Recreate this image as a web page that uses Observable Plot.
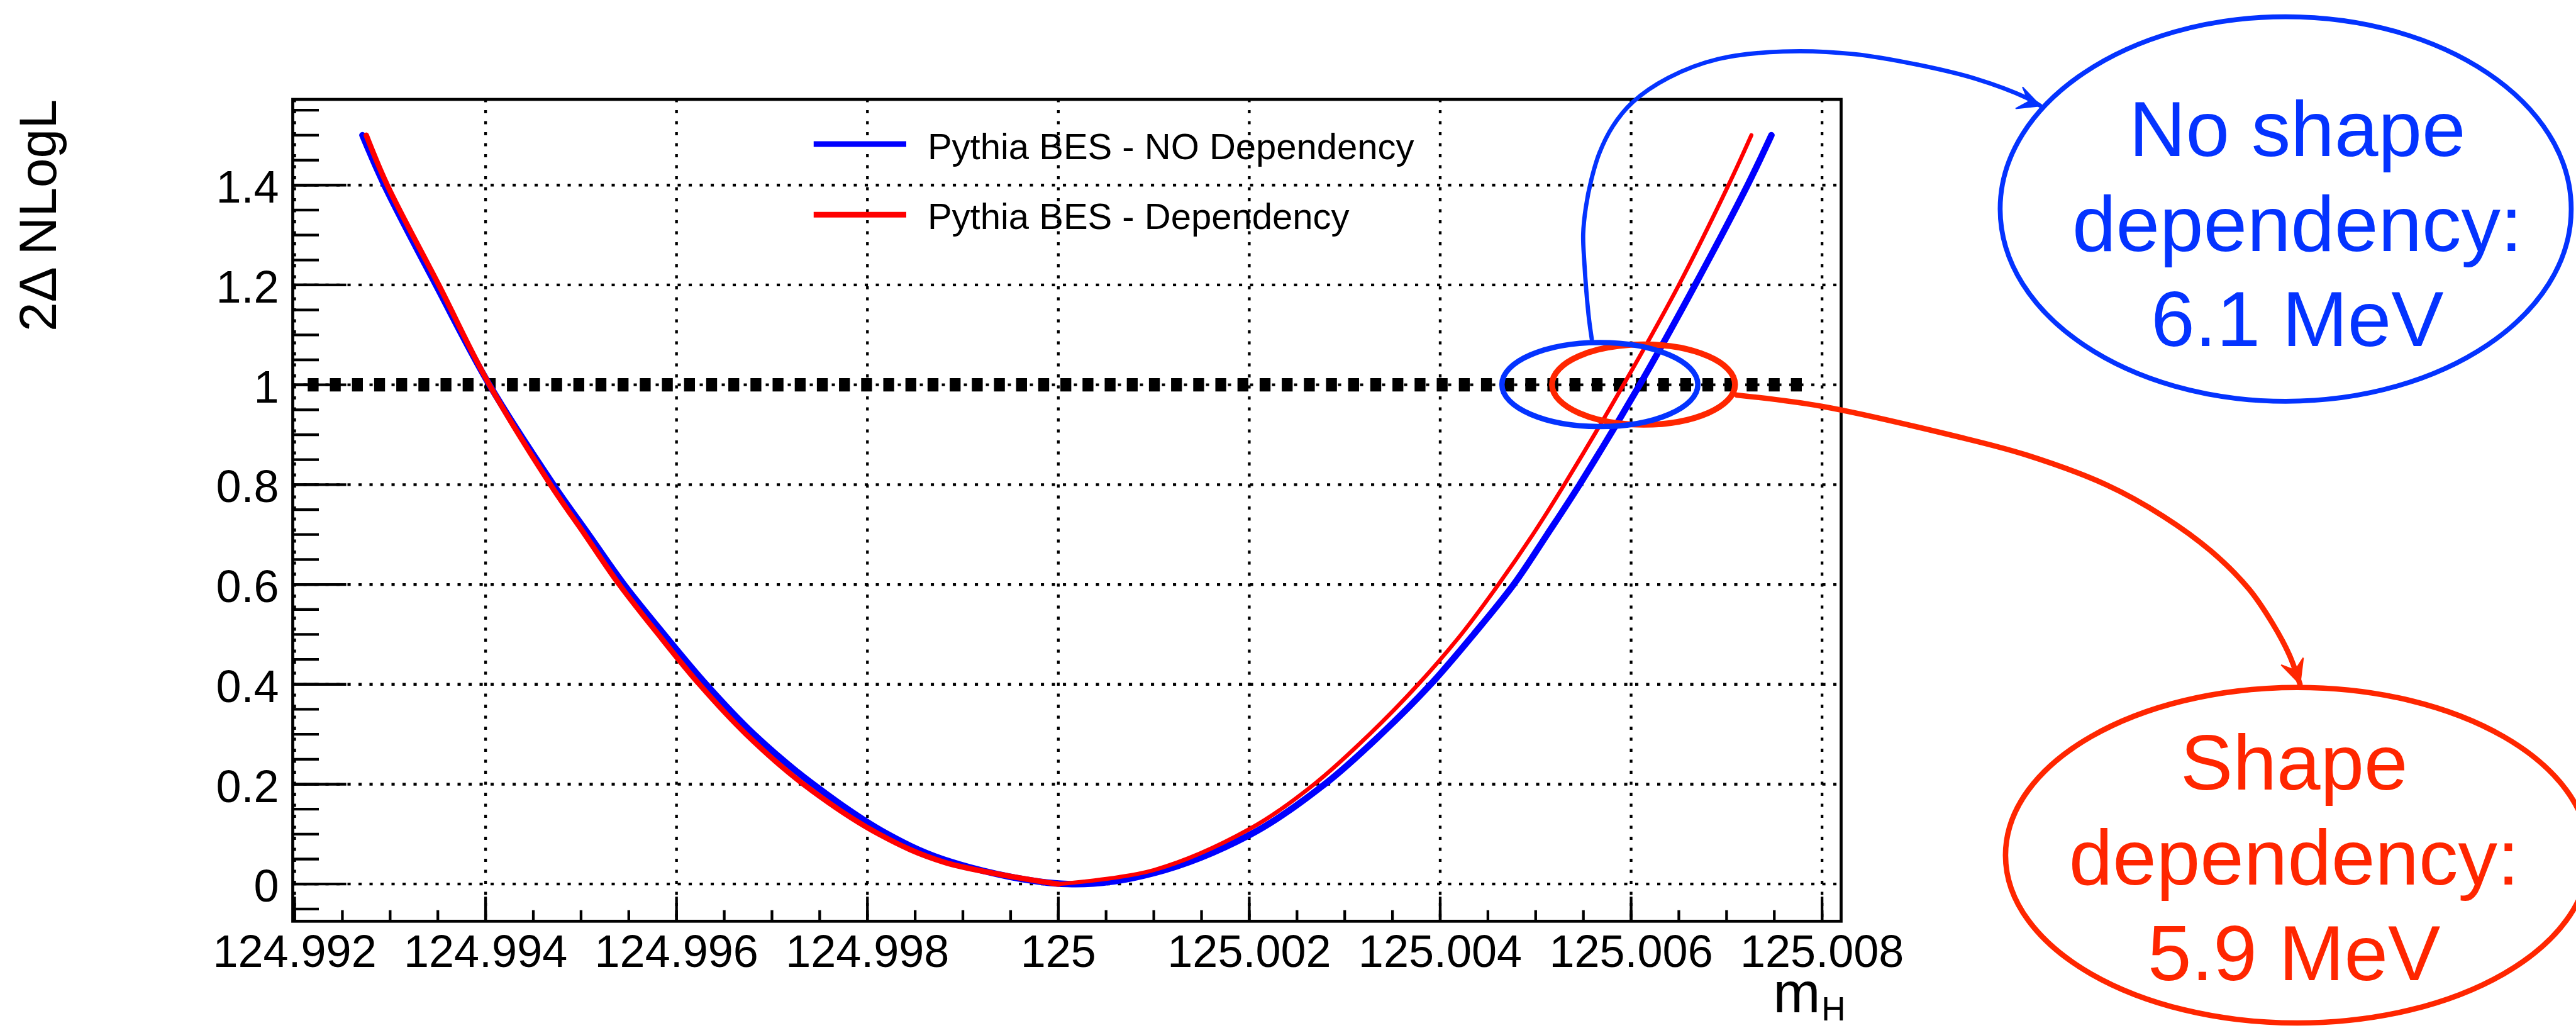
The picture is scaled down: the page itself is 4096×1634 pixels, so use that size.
<!DOCTYPE html>
<html>
<head>
<meta charset="utf-8">
<title>2ΔNLogL scan versus m_H</title>
<script src="https://cdn.jsdelivr.net/npm/d3@7"></script>
<script src="https://cdn.jsdelivr.net/npm/@observablehq/plot@0.6"></script>
<style>
  html, body { margin: 0; padding: 0; background: #ffffff; overflow: hidden; }
  #chart svg { display: block; max-width: none; }
</style>
</head>
<body>
<div id="chart"></div>
<script>
// Likelihood scans: Higgs mass hypothesis (GeV) and 2ΔNLogL
const massNoDep = [124.99271, 124.99294, 124.99348, 124.99404, 124.99471, 124.99508, 124.99545, 124.99587,
  124.99631, 124.99681, 124.99743, 124.99821, 124.99888, 125.0001, 125.001, 125.002, 125.00279,
  125.00338, 125.0039, 125.00435, 125.00477, 125.00512, 125.00546, 125.00609, 125.00667, 125.00722, 125.00747];
const nllNoDep = [1.5, 1.4, 1.2, 1.0, 0.8, 0.7, 0.6, 0.5, 0.4, 0.3, 0.2, 0.1, 0.044, 0, 0.022, 0.098, 0.2,
  0.3, 0.4, 0.5, 0.6, 0.7, 0.8, 1.0, 1.2, 1.4, 1.5];

const massDep = [124.99275, 124.99297, 124.99351, 124.99404, 124.99468, 124.99504, 124.9954, 124.99581,
  124.99624, 124.99673, 124.99733, 124.99812, 124.9988, 125.0, 125.001, 125.002, 125.00268,
  125.00326, 125.00377, 125.00422, 125.00461, 125.00497, 125.0053, 125.00592, 125.0065, 125.00702, 125.00726];
const nllDep = [1.5, 1.4, 1.2, 1.0, 0.8, 0.7, 0.6, 0.5, 0.4, 0.3, 0.2, 0.1, 0.044, 0, 0.028, 0.11, 0.2,
  0.3, 0.4, 0.5, 0.6, 0.7, 0.8, 1.0, 1.2, 1.4, 1.5];

// Axis ticks and labels
const xTicks = [124.992, 124.994, 124.996, 124.998, 125, 125.002, 125.004, 125.006, 125.008];
const xTickLabels = ["124.992", "124.994", "124.996", "124.998", "125", "125.002", "125.004", "125.006", "125.008"];
const yTicks = [0, 0.2, 0.4, 0.6, 0.8, 1, 1.2, 1.4];
const yTickLabels = ["0", "0.2", "0.4", "0.6", "0.8", "1", "1.2", "1.4"];
const xMinorTicks = d3.range(33).map(i => +(124.992 + i * 0.0005).toFixed(4));
const yMinorTicks = d3.range(-1, 32).map(i => +(i * 0.05).toFixed(2));

// Legend entries
const legendLabels = ["Pythia BES - NO Dependency", "Pythia BES - Dependency"];
const legendColors = ["#0000ff", "#ff0000"];

// The 2ΔNLogL = 1 level
const oneSigmaLevel = [1];

// Callout texts
const calloutTexts = ["No shape\ndependency:\n6.1 MeV", "Shape\ndependency:\n5.9 MeV"];

// ---------------------------------------------------------------------------
const noDep = massNoDep.map((mass, i) => ({mass, nll: nllNoDep[i]}));
const dep = massDep.map((mass, i) => ({mass, nll: nllDep[i]}));
const depMin = dep[d3.minIndex(dep, d => d.nll)].mass;

const legendRows = legendLabels.map((label, i) => ({
  label, color: legendColors[i],
  x1: 124.99744, x2: 124.99841, xText: 124.99863,
  yLine: [1.4822, 1.3409][i], yText: [1.4520, 1.3118][i]
}));

const levelRows = oneSigmaLevel.map(y => ({y, x1: 124.99214, x2: 125.0078}));

const calloutBlue = "#0433ff", calloutRed = "#ff2600";

// ellipse outline as a custom dot symbol (radii in pixels)
const ellipse = (rx, ry) => ({
  draw(context) {
    const k = 0.5522847498;
    context.moveTo(rx, 0);
    context.bezierCurveTo(rx, ry * k, rx * k, ry, 0, ry);
    context.bezierCurveTo(-rx * k, ry, -rx, ry * k, -rx, 0);
    context.bezierCurveTo(-rx, -ry * k, -rx * k, -ry, 0, -ry);
    context.bezierCurveTo(rx * k, -ry, rx, -ry * k, rx, 0);
    context.closePath();
  }
});

const rings = [
  {x: 125.00613, y: 1.0005, rx: 145.5, ry: 63.8, color: calloutRed, width: 9.4},
  {x: 125.005673, y: 1.0005, rx: 155.8, ry: 66.8, color: calloutBlue, width: 8.6},
  {x: 125.012857, y: 1.3522, rx: 454, ry: 305.6, color: calloutBlue, width: 7.7},
  {x: 125.012979, y: 0.0577, rx: 464, ry: 266.6, color: calloutRed, width: 8.6}
];

const notes = [
  {x: 125.012979, y: 1.07767, text: calloutTexts[0], color: calloutBlue},
  {x: 125.012945, y: -0.19202, text: calloutTexts[1], color: calloutRed}
];

// curved connectors from the small rings to the callouts
const blueConnector = [
  [125.005588, 1.0917], [125.005554, 1.1402], [125.005509, 1.2481], [125.005498, 1.3020],
  [125.005526, 1.3560], [125.005582, 1.4099], [125.005667, 1.4639], [125.005808, 1.5178],
  [125.006017, 1.5663], [125.006389, 1.6149], [125.006914, 1.6526], [125.007591, 1.6677],
  [125.008341, 1.6624], [125.009013, 1.6408], [125.009616, 1.6127], [125.010141, 1.5750],
  [125.010288, 1.5588]
].map(([x, y]) => ({x, y}));
const blueHead = [
  [125.010288, 1.5588], [125.010101, 1.5965], [125.010164, 1.5674], [125.010028, 1.5534], [125.010288, 1.5588]
].map(([x, y]) => ({x, y}));

const redConnector = [
  [125.007106, 0.9795], [125.008003, 0.9568], [125.009391, 0.8975], [125.010135, 0.8598],
  [125.010982, 0.7994], [125.011574, 0.7368], [125.012070, 0.6677], [125.012471, 0.5912],
  [125.012719, 0.5221], [125.012894, 0.4596], [125.013007, 0.4002]
].map(([x, y]) => ({x, y}));
const redHead = [
  [125.013007, 0.4002], [125.012810, 0.4390], [125.012956, 0.4283], [125.013041, 0.4531], [125.013007, 0.4002]
].map(([x, y]) => ({x, y}));

const gridStyle = {stroke: "black", strokeOpacity: 1, strokeWidth: 4.3, strokeDasharray: "5.1,12.4"};

const chart = Plot.plot({
  width: 4096,
  height: 1634,
  marginLeft: 465,
  marginRight: 1169,
  marginTop: 157.5,
  marginBottom: 170.2,
  x: {domain: [124.99198, 125.0082], label: null},
  y: {domain: [-0.0745, 1.5717], label: null},
  color: {type: "identity"},
  style: {fontFamily: "'Liberation Sans', Arial, Helvetica, sans-serif", background: "#ffffff", color: "black"},
  marks: [
    Plot.gridX({ticks: xTicks, ...gridStyle}),
    Plot.gridY({ticks: yTicks, ...gridStyle}),

    // 2ΔNLogL = 1 reference level
    Plot.ruleY(levelRows, {y: "y", x1: "x1", x2: "x2", stroke: "black", strokeWidth: 21.4, strokeDasharray: "17.3,17.9"}),

    // scans
    Plot.line(noDep, {x: "mass", y: "nll", stroke: "#0000ff", strokeWidth: 10.3, curve: "catmull-rom"}),
    Plot.line(dep.filter(d => d.mass <= depMin), {x: "mass", y: "nll", stroke: "#ff0000", strokeWidth: 8.6, curve: "catmull-rom"}),
    Plot.line(dep.filter(d => d.mass >= depMin), {x: "mass", y: "nll", stroke: "#ff0000", strokeWidth: 6.4, curve: "catmull-rom"}),

    Plot.frame({stroke: "black", strokeWidth: 4.7}),

    // inward ticks
    Plot.axisY({ticks: yTicks, tickSize: -85.6, strokeWidth: 4.3, fill: "none", label: null}),
    Plot.axisY({ticks: yMinorTicks, tickSize: -42, strokeWidth: 4.3, fill: "none", label: null}),
    Plot.axisX({ticks: xTicks, tickSize: -38.5, strokeWidth: 4.3, fill: "none", label: null}),
    Plot.axisX({ticks: xMinorTicks, tickSize: -17, strokeWidth: 4.3, fill: "none", label: null}),

    // tick labels
    Plot.axisY({ticks: yTicks, tickSize: 0, tickPadding: 22, fontSize: 72, dy: 5, label: null,
      tickFormat: d => yTickLabels[yTicks.indexOf(d)]}),
    Plot.axisX({ticks: xTicks, tickSize: 0, tickPadding: 22, fontSize: 72, label: null,
      tickFormat: d => xTickLabels[xTicks.indexOf(d)]}),

    // axis titles
    Plot.text([{t: "2Δ NLogL"}], {text: "t", frameAnchor: "top-left", rotate: -90, textAnchor: "end",
      lineAnchor: "bottom", dx: -377, dy: 0, fontSize: 84, fill: "black"}),
    Plot.text([{t: "m"}], {text: "t", frameAnchor: "bottom-right", textAnchor: "end", lineAnchor: "bottom",
      dx: -33, dy: 145, fontSize: 90, fill: "black"}),
    Plot.text([{t: "H"}], {text: "t", frameAnchor: "bottom-right", textAnchor: "end", lineAnchor: "bottom",
      dx: 7, dy: 158, fontSize: 53, fill: "black"}),

    // legend
    Plot.ruleY(legendRows, {y: "yLine", x1: "x1", x2: "x2", stroke: "color", strokeWidth: 9}),
    Plot.text(legendRows, {x: "xText", y: "yText", text: "label", textAnchor: "start", lineAnchor: "bottom",
      fontSize: 58, fill: "black"}),

    // callouts
    ...rings.map(r => Plot.dot([r], {x: "x", y: "y", symbol: ellipse(r.rx, r.ry), stroke: r.color,
      strokeWidth: r.width, fill: "none"})),
    Plot.line(blueConnector, {x: "x", y: "y", stroke: calloutBlue, strokeWidth: 6.8, curve: "catmull-rom"}),
    Plot.line(blueHead, {x: "x", y: "y", stroke: calloutBlue, fill: calloutBlue, strokeWidth: 2, strokeLinejoin: "miter"}),
    Plot.line(redConnector, {x: "x", y: "y", stroke: calloutRed, strokeWidth: 8.6, curve: "catmull-rom"}),
    Plot.line(redHead, {x: "x", y: "y", stroke: calloutRed, fill: calloutRed, strokeWidth: 2, strokeLinejoin: "miter"}),
    Plot.text(notes, {x: "x", y: "y", text: "text", fill: "color", fontSize: 125, lineHeight: 1.21,
      lineAnchor: "bottom", textAnchor: "middle"})
  ]
});

document.getElementById("chart").appendChild(chart);
</script>
</body>
</html>
